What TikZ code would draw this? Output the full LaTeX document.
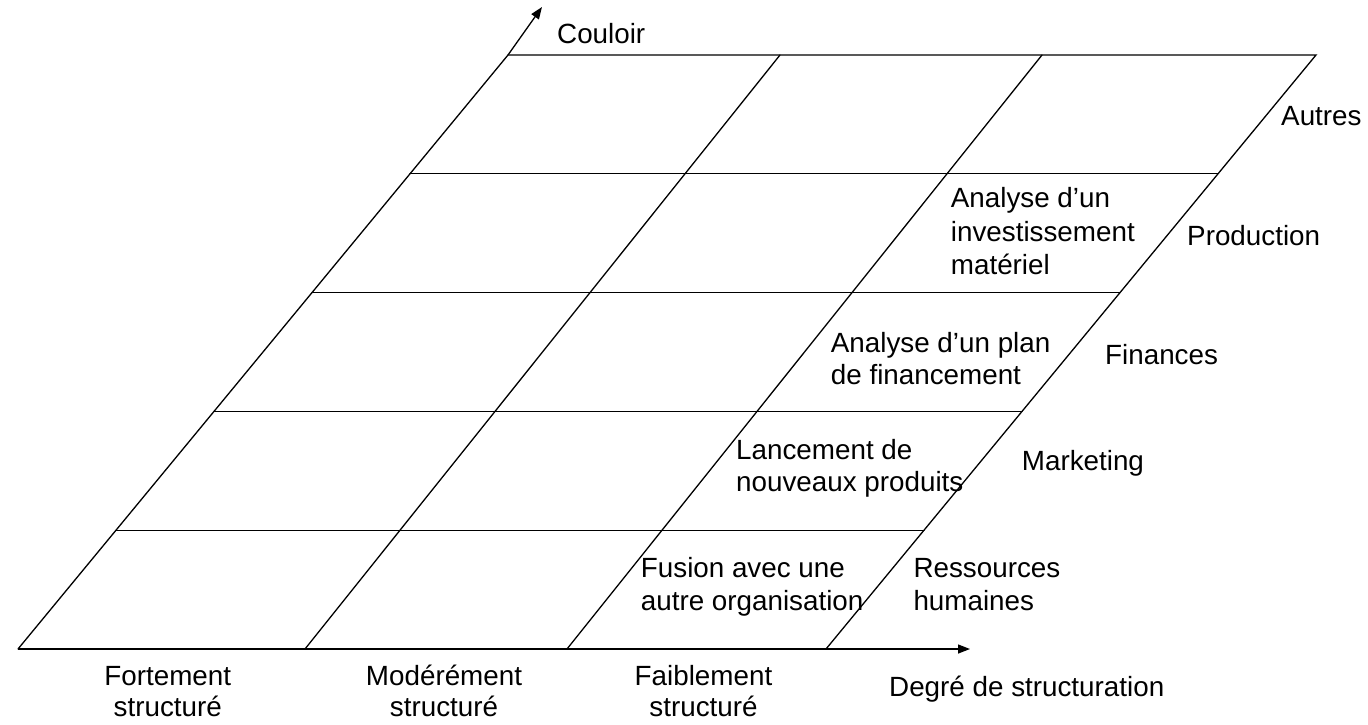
\documentclass[tikz,border=0pt]{standalone}
\usepackage{fontspec}
\setmainfont{Liberation Sans}
\usetikzlibrary{arrows.meta,calc}
\begin{document}
\begin{tikzpicture}[x=1pt,y=-1pt,
  grid/.style={line width=1.3pt,line cap=round},
  arr/.style={line width=1.3pt,-{Triangle[length=12pt,width=9pt]}},
  lbl/.style={anchor=base west,inner sep=0pt,font=\fontsize{27.8}{33}\selectfont},
  clbl/.style={anchor=base,inner sep=0pt,font=\fontsize{27.8}{33}\selectfont}]
\useasboundingbox (0,0) rectangle (1368,724);
% grid corners
\coordinate (L0) at (508,55);
\coordinate (L5) at (18,649);
\coordinate (A0) at (780,55);
\coordinate (A5) at (305,649);
\coordinate (B0) at (1042,55);
\coordinate (B5) at (567,649);
\coordinate (R0) at (1316,55);
\coordinate (R5) at (826,649);
\coordinate (CT) at (542,7);
\coordinate (XT) at (970,649);
% outline and dividers
\draw[grid] (L5) -- (L0) -- (R0) -- (R5);
\draw[grid] (A5) -- (A0);
\draw[grid] (B5) -- (B0);
\foreach \k in {1,...,4}
  \draw[grid] ($(L5)!\k/5!(L0)$) -- ($(R5)!\k/5!(R0)$);
% axes
\draw[arr] (L5) -- (XT);
\draw[arr] (L0) -- (CT);
% axis labels
\node[lbl] (couloir) at (557,43.3) {Couloir};
\node[lbl] (degre) at (889,696.7) {Degré de structuration};
% row labels
\node[lbl] (autres) at (1281,125) {Autres};
\node[lbl] (prod) at (1187,245) {Production};
\node[lbl] (fin) at (1105,364) {Finances};
\node[lbl] (mkt) at (1021.7,470) {Marketing};
\node[lbl] (rh1) at (913.3,577) {Ressources};
\node[lbl] (rh2) at (913.3,610) {humaines};
% column labels
\node[clbl] (c1a) at (167.8,685) {Fortement};
\node[clbl] (c1b) at (167.8,716.5) {structuré};
\node[clbl] (c2a) at (444,685) {Modérément};
\node[clbl] (c2b) at (444,716.5) {structuré};
\node[clbl] (c3a) at (703.5,685) {Faiblement};
\node[clbl] (c3b) at (703.5,716.5) {structuré};
% cell texts
\node[lbl] (p1) at (950.7,207.7) {Analyse d’un};
\node[lbl] (p2) at (950.7,241.2) {investissement};
\node[lbl] (p3) at (950.7,274.7) {matériel};
\node[lbl] (f1) at (830.7,352.3) {Analyse d’un plan};
\node[lbl] (f2) at (830.7,384.8) {de financement};
\node[lbl] (m1) at (736,459.3) {Lancement de};
\node[lbl] (m2) at (736,491.8) {nouveaux produits};
\node[lbl] (h1) at (640.7,577) {Fusion avec une};
\node[lbl] (h2) at (640.7,610) {autre organisation};
\end{tikzpicture}
\end{document}
